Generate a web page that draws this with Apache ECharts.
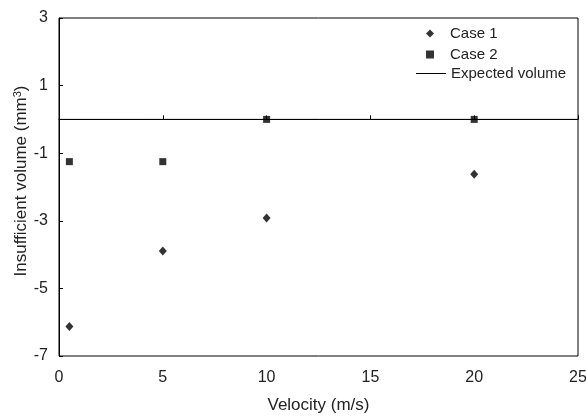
<!DOCTYPE html>
<html>
<head>
<meta charset="utf-8">
<script src="https://cdn.jsdelivr.net/npm/echarts@6/dist/echarts.min.js"></script>
<style>
  html, body { margin: 0; padding: 0; background: #fff; }
  #chart { width: 586px; height: 418px; }
</style>
</head>
<body>
<div id="chart"></div>
<script>
// velocity (m/s) and insufficient volume (mm3)
var case1X = [0.5, 5, 10, 20];
var case1Y = [-6.13, -3.89, -2.92, -1.62];
var case2X = [0.5, 5, 10, 20];
var case2Y = [-1.25, -1.25, 0, 0];
var expectedX = [0, 25];
var expectedY = [0, 0];

function pairs(xs, ys) {
  var out = [];
  for (var i = 0; i < xs.length; i++) {
    out.push([xs[i], ys[i]]);
  }
  return out;
}

var font = 'Liberation Sans, Arial, sans-serif';
var txt = '#222';
var myChart = echarts.init(document.getElementById('chart'));
var option = {
  animation: false,
  textStyle: { fontFamily: font },
  grid: {
    left: 59, right: 8, top: 18, bottom: 62,
    outerBoundsMode: 'none',
    show: true, borderColor: '#000', borderWidth: 1
  },
  legend: [
    {
      // markers
      orient: 'vertical',
      left: 426,
      top: 26,
      padding: 0,
      itemWidth: 8,
      itemHeight: 8,
      itemGap: 6,
      textStyle: { fontFamily: font, fontSize: 15, color: txt, padding: [0, 0, 0, 11] },
      data: ['Case 1', 'Case 2']
    },
    {
      // line
      orient: 'vertical',
      left: 416,
      top: 66,
      padding: 0,
      itemWidth: 30,
      itemHeight: 1,
      textStyle: { fontFamily: font, fontSize: 15, color: txt },
      data: [{ name: 'Expected volume', icon: 'rect' }]
    }
  ],
  xAxis: {
    type: 'value',
    min: 0, max: 25, interval: 5,
    name: 'Velocity (m/s)',
    nameLocation: 'middle',
    nameGap: 41,
    nameMoveOverlap: false,
    nameTextStyle: { fontFamily: font, fontSize: 17, color: txt },
    splitLine: { show: false },
    axisLine: { lineStyle: { color: '#000', width: 1 } },
    axisTick: { inside: true, length: 4, lineStyle: { color: '#000' } },
    axisLabel: { fontFamily: font, fontSize: 16, color: txt, margin: 14 }
  },
  yAxis: {
    type: 'value',
    min: -7, max: 3, interval: 2,
    name: '{n|Insufficient volume (mm}{s|3}{n|)}',
    nameLocation: 'middle',
    nameGap: 29,
    nameMoveOverlap: false,
    nameTextStyle: {
      padding: [0, 0, 0, 12],
      rich: {
        n: { fontFamily: font, fontSize: 17, color: txt },
        s: { fontFamily: font, fontSize: 11, color: txt, verticalAlign: 'top', padding: [0, 0, 7, 0] }
      }
    },
    splitLine: { show: false },
    axisLine: { lineStyle: { color: '#000', width: 1 } },
    axisTick: { inside: true, length: 4, lineStyle: { color: '#000' } },
    axisLabel: { fontFamily: font, fontSize: 16, color: txt, margin: 11 }
  },
  series: [
    {
      name: 'Case 1',
      type: 'scatter',
      symbol: 'diamond',
      symbolSize: [8, 9],
      itemStyle: { color: '#000' },
      data: pairs(case1X, case1Y)
    },
    {
      name: 'Case 2',
      type: 'scatter',
      symbol: 'rect',
      symbolSize: 7,
      itemStyle: { color: '#000' },
      data: pairs(case2X, case2Y)
    },
    {
      name: 'Expected volume',
      type: 'line',
      symbol: 'none',
      z: 1,
      lineStyle: { color: '#000', width: 1 },
      itemStyle: { color: '#000' },
      data: pairs(expectedX, expectedY)
    }
  ]
};
myChart.setOption(option);
</script>
</body>
</html>
